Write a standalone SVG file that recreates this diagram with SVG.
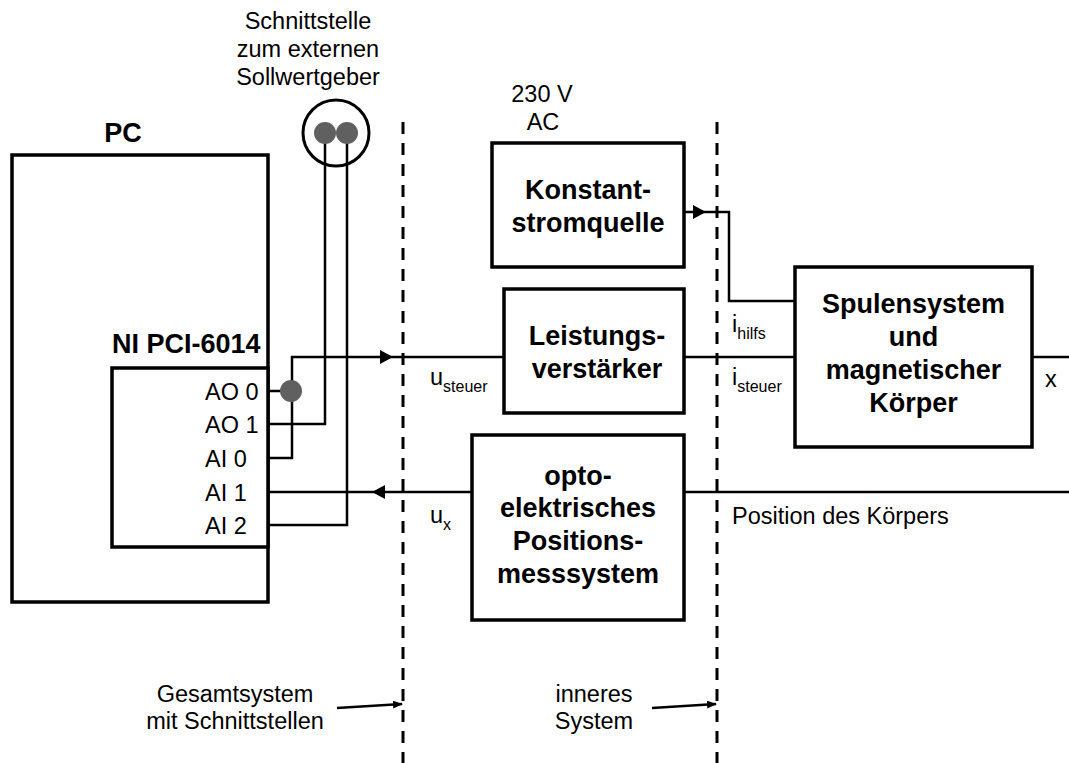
<svg xmlns="http://www.w3.org/2000/svg" width="1069" height="763" viewBox="0 0 1069 763">
<defs>
<style>
.box{fill:#fff;stroke:#000;stroke-width:3.5}
.ln{fill:none;stroke:#000;stroke-width:2.5}
.dash{fill:none;stroke:#000;stroke-width:3;stroke-dasharray:12 9}
.t{font-family:"Liberation Sans",Arial,sans-serif;font-size:23.5px;fill:#000}
.b{font-family:"Liberation Sans",Arial,sans-serif;font-size:27px;font-weight:bold;fill:#000}
.s{font-size:16px}
.dot{fill:#606060}
.ah{fill:#000}
</style>
<marker id="sa" markerWidth="10" markerHeight="8" refX="9" refY="4" orient="auto" markerUnits="userSpaceOnUse">
<path d="M0,0 L10,4 L0,8 Z" fill="#000"/>
</marker>
</defs>
<rect width="1069" height="763" fill="#fff"/>

<g id="boundaries">
<line class="dash" x1="403" y1="122" x2="403" y2="763"/>
<line class="dash" x1="717" y1="122" x2="717" y2="763"/>
</g>

<g id="connectors">
<!-- AO0 -> Leistungsverstaerker -->
<polyline class="ln" points="268,391 291,391"/>
<polyline class="ln" points="268,458 292,458 292,357 504,357"/>
<path class="ah" d="M380,350 L393,357 L380,364 Z"/>
<!-- AO1 and AI2 to Schnittstelle -->
<polyline class="ln" points="268,424 325,424 325,133"/>
<polyline class="ln" points="268,525 347,525 347,133"/>
<!-- Opto -> AI1 -->
<polyline class="ln" points="472,492 268,492"/>
<path class="ah" d="M385,485 L372,492 L385,499 Z"/>
<!-- Konstantstromquelle -> Spulensystem -->
<polyline class="ln" points="684,212 729,212 729,301 795,301"/>
<path class="ah" d="M693,205 L706,212 L693,219 Z"/>
<!-- Leistungsverstaerker -> Spulensystem -->
<line class="ln" x1="684" y1="357" x2="795" y2="357"/>
<!-- Spulensystem -> x -->
<line class="ln" x1="1032" y1="357" x2="1069" y2="357"/>
<!-- Position -> Opto -->
<line class="ln" x1="684" y1="492" x2="1069" y2="492"/>
<!-- boundary pointers -->
<line class="ln" x1="337" y1="708" x2="402" y2="704" marker-end="url(#sa)"/>
<line class="ln" x1="652" y1="708" x2="716" y2="704" marker-end="url(#sa)"/>
</g>

<g id="pc">
<rect class="box" x="12" y="155" width="256" height="447"/>
<text class="b" x="123" y="142" text-anchor="middle">PC</text>
</g>

<g id="ni-pci-6014">
<rect class="box" x="112" y="368" width="156" height="179"/>
<text class="b" x="112" y="353">NI PCI-6014</text>
<text class="t" x="205" y="399.5">AO 0</text>
<text class="t" x="205" y="432.5">AO 1</text>
<text class="t" x="205" y="466.5">AI 0</text>
<text class="t" x="205" y="500.5">AI 1</text>
<text class="t" x="205" y="533.5">AI 2</text>
<circle class="dot" cx="291" cy="391" r="11"/>
</g>

<g id="schnittstelle">
<text class="t" text-anchor="middle"><tspan x="308" y="29">Schnittstelle</tspan><tspan x="308" y="57">zum externen</tspan><tspan x="308" y="85">Sollwertgeber</tspan></text>
<circle cx="336" cy="133" r="33" fill="none" stroke="#000" stroke-width="3"/>
<circle class="dot" cx="325" cy="133" r="11"/>
<circle class="dot" cx="347" cy="133" r="11"/>
</g>

<g id="konstantstromquelle">
<rect class="box" x="492" y="143" width="192" height="124"/>
<text class="b" text-anchor="middle"><tspan x="588" y="199">Konstant-</tspan><tspan x="588" y="232">stromquelle</tspan></text>
<text class="t" text-anchor="middle"><tspan x="542" y="102">230 V</tspan><tspan x="543" y="130">AC</tspan></text>
</g>

<g id="leistungsverstaerker">
<rect class="box" x="504" y="289" width="180" height="124"/>
<text class="b" text-anchor="middle"><tspan x="597" y="345">Leistungs-</tspan><tspan x="597" y="378">verstärker</tspan></text>
</g>

<g id="opto">
<rect class="box" x="472" y="435" width="212" height="185"/>
<text class="b" text-anchor="middle"><tspan x="578" y="485">opto-</tspan><tspan x="578" y="517">elektrisches</tspan><tspan x="578" y="550">Positions-</tspan><tspan x="578" y="583">messsystem</tspan></text>
</g>

<g id="spulensystem">
<rect class="box" x="795" y="267" width="237" height="180"/>
<text class="b" text-anchor="middle"><tspan x="913.5" y="313">Spulensystem</tspan><tspan x="913.5" y="346">und</tspan><tspan x="913.5" y="379">magnetischer</tspan><tspan x="913.5" y="412">Körper</tspan></text>
</g>

<g id="labels">
<text class="t" x="430" y="385">u<tspan class="s" dy="7">steuer</tspan></text>
<text class="t" x="430" y="523">u<tspan class="s" dy="7">x</tspan></text>
<text class="t" x="732" y="332">i<tspan class="s" dy="7">hilfs</tspan></text>
<text class="t" x="732" y="385">i<tspan class="s" dy="7">steuer</tspan></text>
<text class="t" x="1045" y="387">x</text>
<text class="t" x="732" y="524">Position des Körpers</text>
<text class="t" text-anchor="middle"><tspan x="235" y="702">Gesamtsystem</tspan><tspan x="235" y="729">mit Schnittstellen</tspan></text>
<text class="t" text-anchor="middle"><tspan x="594" y="702">inneres</tspan><tspan x="594" y="729">System</tspan></text>
</g>
</svg>
